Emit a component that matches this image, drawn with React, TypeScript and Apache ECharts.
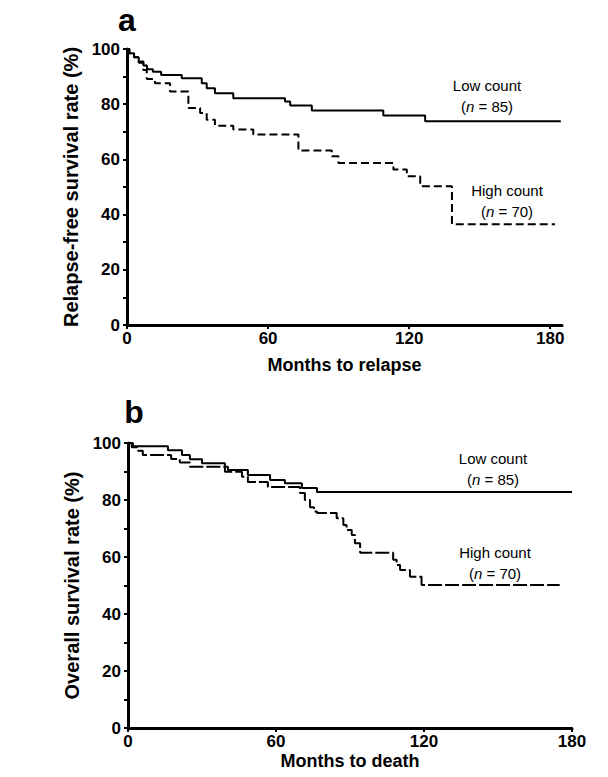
import React, { useEffect, useRef } from "react";
import * as echarts from "echarts";

// Panel a: relapse-free survival
const monthsLowA = [0, 1, 3, 5, 7, 8.5, 11, 14.5, 23.3, 31.8, 33.9, 37.4, 45.2, 67.2, 69.4, 78.6, 109, 126.8, 184.5];
const survLowA = [100, 98.5, 97, 95.5, 94, 92.7, 91.8, 90.6, 89.4, 87.6, 85.8, 84, 82.2, 81, 79.5, 77.7, 75.9, 73.8, 73.8];
const monthsHighA = [0, 1, 3, 5, 6.9, 8.4, 11.9, 18.3, 26.1, 31.1, 33.9, 37.4, 45.2, 53.7, 72.9, 87.1, 89.9, 113.3, 119, 124.7, 138.2, 182];
const survHighA = [100, 98.5, 97, 95, 92.4, 89.1, 87.6, 84.6, 78.6, 76.8, 74.4, 72.2, 70.8, 69, 63.2, 61.1, 58.7, 56.3, 53.9, 50.3, 36.5, 36.5];

// Panel b: overall survival
const monthsLowB = [0, 2, 16.2, 21.9, 25.1, 30, 39.3, 40.5, 48.6, 57.6, 63.6, 70.5, 76.6, 180];
const survLowB = [100, 98.9, 97.5, 95.8, 94.3, 92.9, 91.7, 90.5, 88.8, 87, 85.9, 84.2, 82.8, 82.8];
const monthsHighB = [0, 1.5, 4, 6, 17.5, 21, 25.1, 39.3, 46.2, 48.6, 56.7, 69.7, 71.7, 73.8, 75.4, 76.6, 84.6, 87.3, 88.6, 90.7, 92, 94.1, 107.5, 108.9, 110.3, 114.3, 119, 175];
const survHighB = [100, 98.5, 97.3, 95.8, 94.4, 93.2, 91.7, 89.9, 88.2, 86.3, 84.6, 82.5, 80, 77.5, 76, 75.4, 73.6, 71.2, 69.5, 67.7, 64.8, 61.5, 59, 57.2, 55.4, 53.1, 50.2, 50.2];

const xTicks = [0, 60, 120, 180];
const yTicks = [0, 20, 40, 60, 80, 100];
const panelLetters = ["a", "b"];
const groupNames = ["Low count", "High count"];
const groupSizes = [85, 70];
const xNames = ["Months to relapse", "Months to death"];
const yNames = ["Relapse-free survival rate (%)", "Overall survival rate (%)"];

const FONT = "Liberation Sans, Arial, Helvetica, sans-serif";

const zip = (xs: number[], ys: number[]) => xs.map((x, i) => [x, ys[i]]);

function xAxisDef(gridIndex: number, max: number, name: string, nameGap: number) {
  return {
    type: "value",
    gridIndex,
    min: 0,
    max,
    interval: 60,
    name,
    nameLocation: "middle",
    nameGap,
    nameTextStyle: { fontFamily: FONT, fontSize: 18, fontWeight: "bold", color: "#000" },
    axisLine: { show: true, lineStyle: { color: "#000", width: 3 } },
    axisTick: { show: true, length: 4, lineStyle: { color: "#000", width: 2 }, customValues: xTicks },
    axisLabel: {
      fontFamily: FONT,
      fontSize: 17,
      fontWeight: "bold",
      color: "#000",
      margin: 5,
      customValues: xTicks,
      formatter: (v: number) => (xTicks.includes(v) ? String(v) : ""),
    },
    splitLine: { show: false },
  };
}

function yAxisDef(gridIndex: number, name: string) {
  return {
    type: "value",
    gridIndex,
    min: 0,
    max: 100,
    interval: 20,
    name,
    nameLocation: "middle",
    nameRotate: 90,
    nameGap: 45,
    nameTextStyle: { fontFamily: FONT, fontSize: 20, fontWeight: "bold", color: "#000" },
    axisLine: { show: true, lineStyle: { color: "#000", width: 3 } },
    axisTick: { show: true, length: 4, lineStyle: { color: "#000", width: 2 }, customValues: yTicks },
    minorTick: { show: true, splitNumber: 2, length: 4, lineStyle: { color: "#000", width: 2 } },
    axisLabel: { fontFamily: FONT, fontSize: 17, fontWeight: "bold", color: "#000", margin: 7 },
    splitLine: { show: false },
  };
}

function labelPair(x: number, y: number, idx: number) {
  return [
    {
      type: "text",
      x,
      y,
      style: {
        text: groupNames[idx],
        fontFamily: FONT,
        fontSize: 15,
        fill: "#000",
        align: "center",
        verticalAlign: "middle",
      },
    },
    {
      type: "text",
      x,
      y: y + 21,
      style: {
        text: "({i|n} = " + groupSizes[idx] + ")",
        fontFamily: FONT,
        fontSize: 15,
        fill: "#000",
        align: "center",
        verticalAlign: "middle",
        rich: { i: { fontFamily: FONT, fontSize: 15, fontStyle: "italic", fill: "#000" } },
      },
    },
  ];
}

export default function App() {
  const ref = useRef<HTMLDivElement>(null);
  useEffect(() => {
    if (!ref.current) return;
    const chart = echarts.init(ref.current, undefined, { renderer: "svg" });
    const option = {
      animation: false,
      backgroundColor: "#fff",
      grid: [
        { left: 127, top: 49, width: 435, height: 276 },
        { left: 128, top: 443, width: 444, height: 285 },
      ],
      xAxis: [xAxisDef(0, 185, xNames[0], 31), xAxisDef(1, 180, xNames[1], 24)],
      yAxis: [yAxisDef(0, yNames[0]), yAxisDef(1, yNames[1])],
      series: [
        {
          type: "line",
          xAxisIndex: 0,
          yAxisIndex: 0,
          step: "end",
          symbol: "none",
          data: zip(monthsLowA, survLowA),
          lineStyle: { color: "#000", width: 2 },
        },
        {
          type: "line",
          xAxisIndex: 0,
          yAxisIndex: 0,
          step: "end",
          symbol: "none",
          data: zip(monthsHighA, survHighA),
          lineStyle: { color: "#000", width: 2, type: [8, 4] },
        },
        {
          type: "line",
          xAxisIndex: 1,
          yAxisIndex: 1,
          step: "end",
          symbol: "none",
          data: zip(monthsLowB, survLowB),
          lineStyle: { color: "#000", width: 2 },
        },
        {
          type: "line",
          xAxisIndex: 1,
          yAxisIndex: 1,
          step: "end",
          symbol: "none",
          data: zip(monthsHighB, survHighB),
          lineStyle: { color: "#000", width: 2, type: [14, 3] },
        },
      ],
      graphic: [
        {
          type: "text",
          x: 127,
          y: 20,
          style: { text: panelLetters[0], fontFamily: FONT, fontSize: 32, fontWeight: 900, fill: "#000", align: "center", verticalAlign: "middle" },
        },
        {
          type: "text",
          x: 134,
          y: 412,
          style: { text: panelLetters[1], fontFamily: FONT, fontSize: 32, fontWeight: 900, fill: "#000", align: "center", verticalAlign: "middle" },
        },
        ...labelPair(487, 85, 0),
        ...labelPair(507, 190, 1),
        ...labelPair(493, 458, 0),
        ...labelPair(495, 552, 1),
      ],
    };
    chart.setOption(option as any);
    return () => chart.dispose();
  }, []);
  return (
    <div
      ref={ref}
      style={{ position: "fixed", left: 0, top: 0, width: 608, height: 777, background: "#fff" }}
    />
  );
}
